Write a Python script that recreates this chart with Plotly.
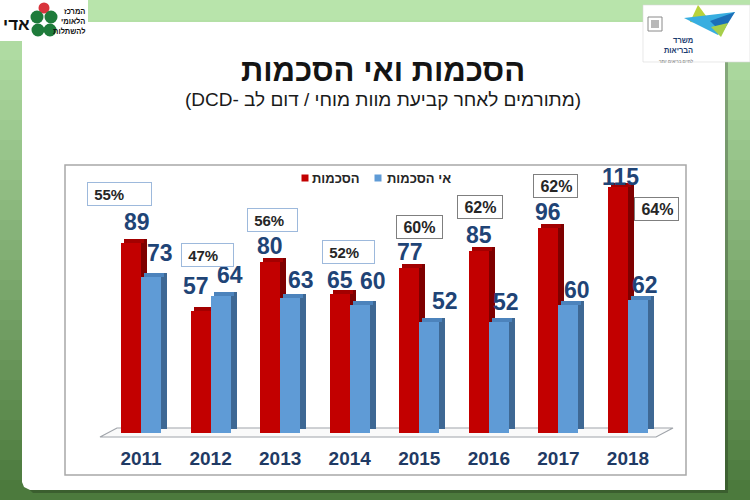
import plotly.graph_objects as go

# ---------------- data ----------------
years = ['2011', '2012', '2013', '2014', '2015', '2016', '2017', '2018']
agree = [89, 57, 80, 65, 77, 85, 96, 115]
disagree = [73, 64, 63, 60, 52, 52, 60, 62]
agree_pct = ['55%', '47%', '56%', '52%', '60%', '62%', '62%', '64%']
series_names = ['הסכמות', 'אי הסכמות']
title_text = 'הסכמות ואי הסכמות'
subtitle_text = '\u202b(מתורמים לאחר קביעת מוות מוחי / דום לב -DCD)\u202c'

# ---------------- layout geometry (pixels) ----------------
W, H = 750, 500
ML, MR, MT, MB = 97, 77, 155, 61
PW = W - ML - MR
PH = H - MT - MB
UX = 69.57      # px per category
UY = 2.14       # px per value unit
X0PX, Y0PX = 141, 433
xr = [-(X0PX - ML) / UX, (W - MR - X0PX) / UX]
yr = [-(H - MB - Y0PX) / UY, (Y0PX - MT) / UY]


def px(x):
    return (x - ML) / PW


def py(y):
    return (H - MB - y) / PH


def ppath(points, close=True):
    s = 'M ' + ' L '.join(f'{px(x):.5f},{py(y):.5f}' for x, y in points)
    return s + (' Z' if close else '')


FONT = 'Liberation Sans, Arial, DejaVu Sans, sans-serif'
bw = 20 / UX        # bar front width
ddx = 6 / UX        # depth offset x
ddy = 4 / UY        # depth offset y

xs = list(range(len(years)))
red_front, red_top, red_side = '#C20000', '#A30000', '#7E0000'
blue_front, blue_top, blue_side = '#5F9BD6', '#4C83BC', '#3E6894'

fig = go.Figure()


def add_bar3d(vals, off, cf, ct, cs, name):
    fig.add_trace(go.Bar(x=xs, y=vals, base=[ddy] * len(vals), offset=off + ddx, width=bw,
                         marker=dict(color=cs, line=dict(width=0)), showlegend=False,
                         hoverinfo='skip'))
    fig.add_trace(go.Bar(x=xs, y=[ddy] * len(vals), base=vals, offset=off + ddx / 2, width=bw,
                         marker=dict(color=ct, line=dict(width=0)), showlegend=False,
                         hoverinfo='skip'))
    fig.add_trace(go.Bar(x=xs, y=vals, offset=off, width=bw, name=name,
                         marker=dict(color=cf, line=dict(width=0)), showlegend=False))


add_bar3d(agree, -bw, red_front, red_top, red_side, series_names[0])
add_bar3d(disagree, 0, blue_front, blue_top, blue_side, series_names[1])

shapes = []
# background gradient stripes
top_c = (0xB8, 0xE4, 0xAB)
bot_c = (0x4C, 0x7A, 0x3D)
N = 25
for k in range(N):
    t = k / (N - 1)
    c = tuple(int(round(top_c[j] + (bot_c[j] - top_c[j]) * t)) for j in range(3))
    y0 = k * H / N
    y1 = (k + 1) * H / N + 1
    shapes.append(dict(type='rect', xref='paper', yref='paper', layer='below',
                       x0=px(0), x1=px(W), y0=py(y0), y1=py(y1),
                       fillcolor='rgb(%d,%d,%d)' % c, line=dict(width=0)))
# panel shadow + white panel (rounded bottom-left)
shapes.append(dict(type='path', xref='paper', yref='paper', layer='below',
                   path=ppath([(25, 25), (728, 25), (728, 493), (33, 493), (25, 486)]),
                   fillcolor='rgba(0,0,0,0.22)', line=dict(width=0)))
shapes.append(dict(type='path', xref='paper', yref='paper', layer='below',
                   path=ppath([(22, 22), (725, 22), (725, 490), (30, 490), (24, 487), (22, 482)]),
                   fillcolor='white', line=dict(width=0)))
# logo boxes
shapes.append(dict(type='rect', xref='paper', yref='paper', layer='below',
                   x0=px(0), x1=px(88), y0=py(0), y1=py(41), fillcolor='white', line=dict(width=0)))
shapes.append(dict(type='rect', xref='paper', yref='paper', layer='below',
                   x0=px(643), x1=px(750), y0=py(5), y1=py(62), fillcolor='white',
                   line=dict(width=0.6, color='#D8D8D8')))
# chart frame
shapes.append(dict(type='rect', xref='paper', yref='paper', layer='below',
                   x0=px(65), x1=px(686), y0=py(165), y1=py(475), fillcolor='white',
                   line=dict(width=1.5, color='#A8A8A8')))
# floor
shapes.append(dict(type='path', xref='paper', yref='paper', layer='below',
                   path=ppath([(100, 437), (117, 428), (673, 428), (656, 437)]),
                   fillcolor='#FAFAFA', line=dict(width=1.2, color='#A0A4AA')))

# left logo clover
for (cx, cy, r, col) in [(44, 8, 5.5, '#D8343C'), (37, 17, 6.5, '#1E7B3A'), (51, 17, 6.5, '#1E7B3A'),
                         (38, 30, 6.5, '#1E7B3A'), (50, 30, 6.5, '#1E7B3A')]:
    shapes.append(dict(type='circle', xref='paper', yref='paper', layer='above',
                       x0=px(cx - r), x1=px(cx + r), y0=py(cy - r), y1=py(cy + r),
                       fillcolor=col, line=dict(width=0)))
# right logo: emblem + star
shapes.append(dict(type='rect', xref='paper', yref='paper', layer='above',
                   x0=px(648), x1=px(662), y0=py(17), y1=py(31), fillcolor='white',
                   line=dict(width=1, color='#8A8A8A')))
shapes.append(dict(type='path', xref='paper', yref='paper', layer='above',
                   path=ppath([(651, 20), (659, 20), (659, 28), (651, 28)]),
                   fillcolor='#B8B8B8', line=dict(width=0)))
shapes.append(dict(type='path', xref='paper', yref='paper', layer='above',
                   path=ppath([(698, 5), (712, 24), (690, 22)]),
                   fillcolor='#B9D33A', line=dict(width=0)))
shapes.append(dict(type='path', xref='paper', yref='paper', layer='above',
                   path=ppath([(684, 18), (735, 12), (718, 35)]),
                   fillcolor='#38AEE0', line=dict(width=0)))
shapes.append(dict(type='path', xref='paper', yref='paper', layer='above',
                   path=ppath([(710, 21), (735, 12), (722, 33)]),
                   fillcolor='#1C6FB8', line=dict(width=0)))
shapes.append(dict(type='path', xref='paper', yref='paper', layer='above',
                   path=ppath([(711, 27), (728, 23), (721, 37)]),
                   fillcolor='#A7CF4A', line=dict(width=0)))

# manual legend squares
for cx, col in [(305, red_front), (378, blue_front)]:
    shapes.append(dict(type='rect', xref='paper', yref='paper', layer='above',
                       x0=px(cx - 3.5), x1=px(cx + 3.5), y0=py(174.5), y1=py(181.5),
                       fillcolor=col, line=dict(width=0)))

ann = []
# title & subtitle
ann.append(dict(text='<b>' + title_text + '</b>', x=px(383), y=py(70), xref='paper', yref='paper',
                xanchor='center', yanchor='middle', showarrow=False,
                font=dict(family=FONT, size=31, color='#141414')))
ann.append(dict(text=subtitle_text, x=px(383), y=py(100), xref='paper', yref='paper',
                xanchor='center', yanchor='middle', showarrow=False,
                font=dict(family=FONT, size=19, color='#1A1A1A')))
# legend text
ann.append(dict(text='<b>' + series_names[0] + '</b>', x=px(362), y=py(178), xref='paper', yref='paper',
                xanchor='right', yanchor='middle', showarrow=False,
                font=dict(family=FONT, size=13, color='#262626')))
ann.append(dict(text='<b>' + series_names[1] + '</b>', x=px(453), y=py(178), xref='paper', yref='paper',
                xanchor='right', yanchor='middle', showarrow=False,
                font=dict(family=FONT, size=13, color='#262626')))

# value labels (placement: px shift right of bar face centre, px of label centre above bar top)
red_lab_dx = [6, -5, 0, 0, 1, 0, 0, 3]
red_lab_dy = [21, 25, 16, 14, 16, 16, 16, 10]
blue_lab_dx = [9, 9, 11, 13, 16, 7, 9, 7]
blue_lab_dy = [24, 21, 18, 24, 21, 20, 15, 15]
VAL_COLOR = '#1F4476'
for i in xs:
    ann.append(dict(text='<b>%d</b>' % agree[i], x=i - bw / 2, y=agree[i], xref='x', yref='y',
                    xanchor='center', yanchor='middle', xshift=red_lab_dx[i], yshift=red_lab_dy[i],
                    showarrow=False, font=dict(family=FONT, size=23, color=VAL_COLOR)))
    ann.append(dict(text='<b>%d</b>' % disagree[i], x=i + bw / 2, y=disagree[i], xref='x', yref='y',
                    xanchor='center', yanchor='middle', xshift=blue_lab_dx[i], yshift=blue_lab_dy[i],
                    showarrow=False, font=dict(family=FONT, size=23, color=VAL_COLOR)))

# percentage boxes (placement in pixels: left offset from category, vertical centre, width)
pct_dx = [-54, -30, -33, -28, -23, -32, -25, 6]
pct_yc = [193.5, 254.5, 219.5, 252, 226.5, 206.5, 186, 209]
pct_w = [65, 53, 51, 53, 47, 46, 45, 45]
for i in xs:
    late = i >= 4
    ann.append(dict(text='<b>\u00a0' + agree_pct[i] + '</b>', x=i, xref='x', xanchor='left',
                    xshift=pct_dx[i], y=py(pct_yc[i]), yref='paper', yanchor='middle',
                    showarrow=False, align='left', width=pct_w[i] - 6, height=18,
                    bgcolor='white', borderwidth=1, borderpad=2,
                    bordercolor='#7F7F7F' if late else '#9DB9DC',
                    font=dict(family=FONT, size=16 if late else 15, color='#262626')))

# logo texts
ann.append(dict(text='<b>אדי</b>', x=px(1), y=py(24), xref='paper', yref='paper', xanchor='left',
                yanchor='middle', showarrow=False, font=dict(family=FONT, size=17, color='#111111')))
ann.append(dict(text='<b>המרכז<br>הלאומי<br>להשתלות</b>', x=px(87), y=py(21), xref='paper',
                yref='paper', xanchor='right', yanchor='middle', align='right', showarrow=False,
                font=dict(family=FONT, size=7.5, color='#111111')))
ann.append(dict(text='<b>משרד<br>הבריאות</b><br><span style="font-size:4.5px;color:#777777">'
                     'לחיים בריאים יותר</span>',
                x=px(696), y=py(50), xref='paper', yref='paper', xanchor='right', yanchor='middle',
                align='right', showarrow=False, font=dict(family=FONT, size=7.5, color='#1B3B6F')))

fig.update_layout(
    width=W, height=H,
    margin=dict(l=ML, r=MR, t=MT, b=MB, pad=0),
    paper_bgcolor='#8FC27F', plot_bgcolor='rgba(0,0,0,0)',
    barmode='overlay', bargap=0,
    showlegend=False,
    shapes=shapes, annotations=ann,
    xaxis=dict(range=xr, tickvals=xs, ticktext=['<b>%s</b>' % y for y in years],
               showgrid=False, zeroline=False,
               showline=False, ticks='', ticklabelstandoff=6, fixedrange=True,
               tickfont=dict(family=FONT, size=19, color='#1F3A64')),
    yaxis=dict(range=yr, visible=False, showgrid=False, zeroline=False, fixedrange=True),
    font=dict(family=FONT),
)

fig.write_html('out.html', config={'displayModeBar': False},
               post_script="document.body.style.margin='0px';document.body.style.overflow='hidden';")
